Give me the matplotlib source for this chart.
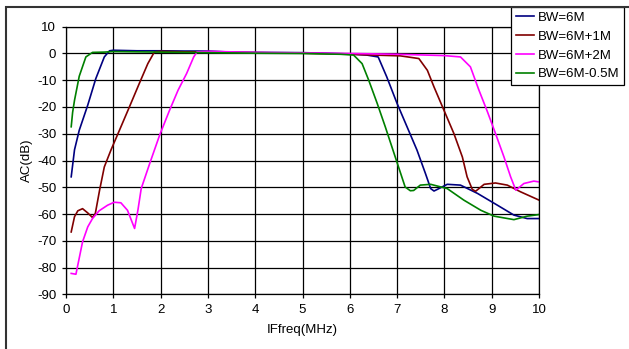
import matplotlib
matplotlib.use("Agg")
import matplotlib.pyplot as plt
from matplotlib.patches import Rectangle

plt.rcParams['font.family'] = ['Liberation Sans', 'DejaVu Sans']
plt.rcParams['axes.unicode_minus'] = False

blue_x = [0.11,0.18,0.28,0.46,0.63,0.81,0.92,1.0,1.5,2.0,2.5,3.0,3.5,4.0,5.0,5.5,6.0,6.36,6.6,6.78,7.0,7.21,7.42,7.6,7.71,7.78,7.85,8.06,8.34,8.7,9.12,9.47,9.75,10]
blue_y = [-46.1,-36,-28.7,-19.3,-9.4,-1.3,1.0,1.2,1.0,1.0,0.9,0.9,0.5,0.4,0.3,0.1,-0.2,-0.6,-1.3,-8.7,-18.7,-27.4,-36.1,-44.9,-50.5,-51.4,-50.8,-48.9,-49.2,-52.3,-56.7,-60.4,-61.7,-61.7]

brown_x = [0.11,0.18,0.25,0.35,0.46,0.56,0.62,0.71,0.81,0.95,1.13,1.34,1.55,1.73,1.87,2.0,2.5,3,4,5,6,6.5,7.07,7.46,7.64,7.78,7.99,8.2,8.38,8.48,8.59,8.66,8.84,9.08,9.33,9.61,10]
brown_y = [-66.7,-61,-58.8,-58,-59.6,-61.3,-59.8,-51.1,-42.4,-36.1,-28.7,-20,-11.2,-3.8,0.6,0.8,0.6,0.5,0.3,0.1,-0.3,-0.6,-0.9,-1.9,-6.3,-12.5,-21.2,-29.9,-38.7,-46.1,-50.8,-51.5,-48.9,-48.4,-49.2,-51.7,-54.8]

magenta_x = [0.11,0.21,0.35,0.46,0.56,0.7,0.88,1.02,1.16,1.30,1.45,1.52,1.59,1.77,1.98,2.19,2.37,2.55,2.70,2.77,3.0,4,5,6,7,8,8.34,8.55,8.73,8.91,9.08,9.26,9.40,9.51,9.68,9.89,10]
magenta_y = [-82.2,-82.5,-70.4,-64.8,-61.7,-58.8,-56.7,-55.6,-55.8,-58.6,-65.4,-58.6,-50.5,-41.1,-30.5,-21.2,-13.7,-7.5,-1.3,0.6,0.8,0.4,0.2,0,-0.3,-0.8,-1.3,-5,-13.7,-21.8,-29.9,-38.7,-46.1,-51.1,-48.6,-47.7,-48]

green_x = [0.11,0.14,0.18,0.28,0.42,0.56,0.8,1.0,1.5,2,3,4,5,5.5,5.8,6.08,6.26,6.40,6.58,6.75,6.89,7.03,7.17,7.28,7.35,7.49,7.71,8.06,8.41,8.77,9.05,9.47,9.75,10]
green_y = [-27.4,-22,-17.5,-8.5,-1.3,0.4,0.5,0.7,0.6,0.5,0.3,0.1,0,-0.2,-0.3,-0.6,-3.8,-10,-18.7,-27.4,-34.9,-42.4,-49.9,-51.3,-51.2,-49.2,-48.9,-50.5,-54.8,-58.6,-60.8,-62.1,-60.8,-60.2]

labels = ['BW=6M', 'BW=6M+1M', 'BW=6M+2M', 'BW=6M-0.5M']
colors = ['#000080', '#800000', '#FF00FF', '#008000']
x_ticks = list(range(0, 11))
y_ticks = list(range(-90, 11, 10))

fig = plt.figure(figsize=(6.29, 3.49), dpi=100)
ax = fig.add_axes([66/629, 1-294.3/349, (539-66)/629, (294.3-26.7)/349])

series = [(blue_x, blue_y), (brown_x, brown_y), (magenta_x, magenta_y), (green_x, green_y)]
for (xs, ys), lab, c in zip(series, labels, colors):
    ax.plot(xs, ys, color=c, lw=1.2, label=lab)

ax.set_xlim(0, 10)
ax.set_ylim(-90, 10)
ax.set_xticks(x_ticks)
ax.set_yticks(y_ticks)
ax.grid(True, color='black', lw=0.9)
ax.set_axisbelow(True)
for s in ax.spines.values():
    s.set_color('black')
    s.set_linewidth(0.9)
ax.tick_params(direction='out', length=3, width=0.9, labelsize=9.5, colors='black', pad=4)
ax.set_xlabel('IFfreq(MHz)', fontsize=9.5, labelpad=6)
ax.set_ylabel('AC(dB)', fontsize=9.5, labelpad=3)

leg = ax.legend(loc='upper left', bbox_to_anchor=(511/629, 1-7/349), bbox_transform=fig.transFigure,
                fontsize=9.5, frameon=True, fancybox=False, framealpha=1, edgecolor='black',
                borderaxespad=0, handlelength=1.4, handletextpad=0.3, labelspacing=0.5, borderpad=0.35)
leg.get_frame().set_linewidth(0.9)

fig.patches.append(Rectangle((6/629, -0.1), 2, 1.1 - 7/349, transform=fig.transFigure,
                             fill=False, edgecolor='#333333', lw=1.5, zorder=0))

fig.savefig('out.png', dpi=100)
